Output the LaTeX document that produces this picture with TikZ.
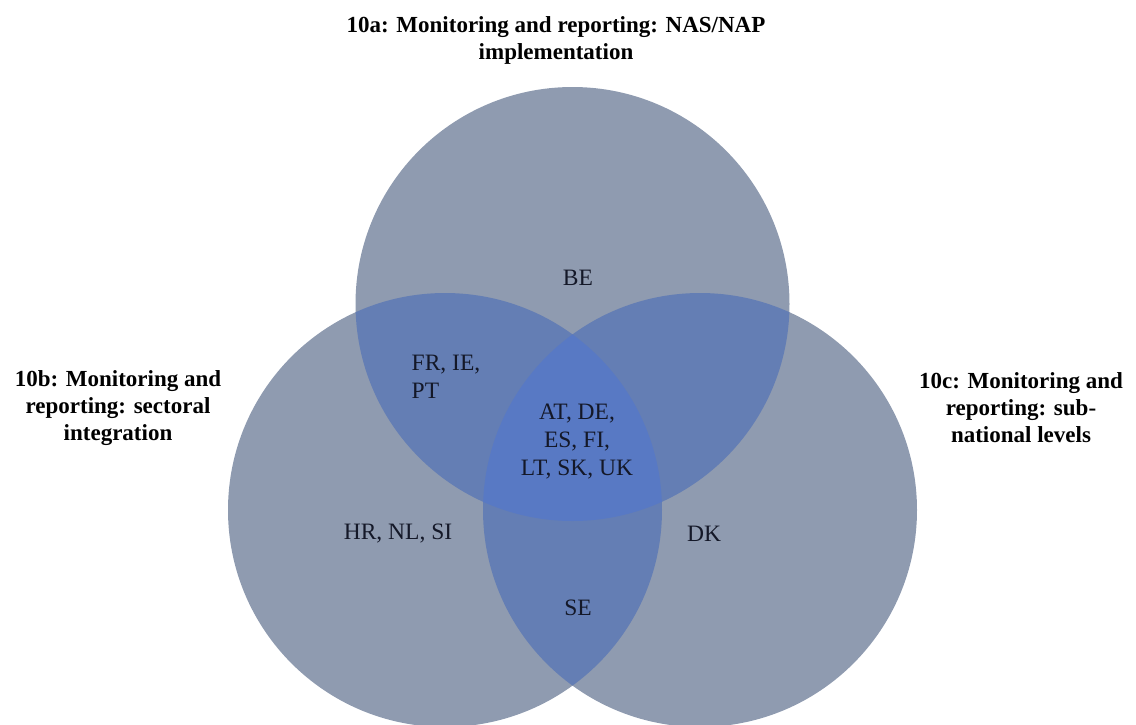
\documentclass[tikz,border=0pt]{standalone}
\usepackage{fontspec}
\setmainfont{Liberation Serif}
\definecolor{vsingle}{RGB}{143,155,176}
\definecolor{vdouble}{RGB}{100,126,180}
\definecolor{vtriple}{RGB}{88,121,196}
\definecolor{labelink}{RGB}{20,24,40}
\tikzset{
  title/.style={font=\fontsize{23}{27}\selectfont\bfseries, align=center, inner sep=0pt, text=black},
  region/.style={font=\fontsize{23.5}{28}\selectfont, align=center, inner sep=0pt, text=labelink},
}
\begin{document}
\begin{tikzpicture}[x=1pt,y=-1pt]
\useasboundingbox (0,0) rectangle (1136,724);
\clip (0,0) rectangle (1136,724);
\def\R{217}
\coordinate (cA) at (572.5,304);
\coordinate (cB) at (445,510);
\coordinate (cC) at (700,510);
% single circles
\fill[vsingle] (cA) circle (\R);
\fill[vsingle] (cB) circle (\R);
\fill[vsingle] (cC) circle (\R);
% pairwise overlaps
\begin{scope}
  \clip (cA) circle (\R);
  \fill[vdouble] (cB) circle (\R);
  \fill[vdouble] (cC) circle (\R);
\end{scope}
\begin{scope}
  \clip (cB) circle (\R);
  \fill[vdouble] (cC) circle (\R);
\end{scope}
% triple overlap
\begin{scope}
  \clip (cA) circle (\R);
  \clip (cB) circle (\R);
  \fill[vtriple] (cC) circle (\R);
\end{scope}
% titles
\node[title] (ta) at (556,40) {10a: Monitoring and reporting: NAS/NAP\\implementation};
\node[title] (tb) at (118,408) {10b: Monitoring and\\reporting: sectoral\\integration};
\node[title] (tc) at (1021,408) {10c: Monitoring and\\reporting: sub-\\national levels};
% region labels
\node[region] (be) at (578,278) {BE};
\node[region, align=left] (fr) at (446,377) {FR, IE,\\PT};
\node[region] (ctr) at (577,442) {AT, DE,\\ES, FI,\\LT, SK, UK};
\node[region] (hr) at (398,534) {HR, NL, SI};
\node[region] (dk) at (704,534) {DK};
\node[region] (se) at (578,608) {SE};
\end{tikzpicture}
\end{document}
